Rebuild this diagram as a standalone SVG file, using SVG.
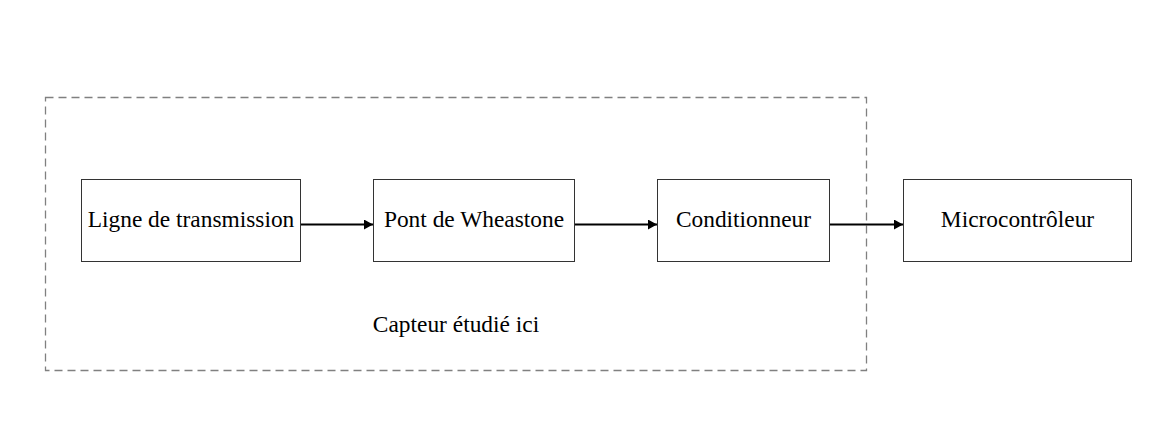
<svg xmlns="http://www.w3.org/2000/svg" width="1171" height="431" viewBox="0 0 1171 431">
<style>
.box{fill:#fff;stroke:#333;stroke-width:1}
.lbl{font-family:"Liberation Serif","Times New Roman",serif;font-size:23.4px;fill:#000;text-anchor:middle}
.edge{stroke:#000;stroke-width:2;fill:none}
</style>
<defs>
<marker id="arr" viewBox="0 0 9 10" refX="9" refY="5" markerWidth="9" markerHeight="10" markerUnits="userSpaceOnUse" orient="auto">
<path d="M0,0 L9,5 L0,10 Z" fill="#000"/>
</marker>
</defs>
<rect width="1171" height="431" fill="#fff"/>
<g id="group-capteur">
<rect x="45.5" y="97.5" width="821" height="273" fill="none" stroke="#808080" stroke-width="1.3" stroke-dasharray="8 5"/>
<text class="lbl" x="456" y="332">Capteur étudié ici</text>
</g>
<g id="connectors">
<line class="edge" x1="301" y1="224.5" x2="373" y2="224.5" marker-end="url(#arr)"/>
<line class="edge" x1="575" y1="224.5" x2="657" y2="224.5" marker-end="url(#arr)"/>
<line class="edge" x1="830" y1="224.5" x2="903" y2="224.5" marker-end="url(#arr)"/>
</g>
<g id="node-ligne">
<rect class="box" x="81.5" y="179.5" width="219" height="82"/>
<text class="lbl" x="191" y="227">Ligne de transmission</text>
</g>
<g id="node-pont">
<rect class="box" x="373.5" y="179.5" width="201" height="82"/>
<text class="lbl" x="474" y="227">Pont de Wheastone</text>
</g>
<g id="node-cond">
<rect class="box" x="657.5" y="179.5" width="172" height="82"/>
<text class="lbl" x="743.5" y="227">Conditionneur</text>
</g>
<g id="node-micro">
<rect class="box" x="903.5" y="179.5" width="228" height="82"/>
<text class="lbl" x="1017.5" y="227">Microcontrôleur</text>
</g>
</svg>
